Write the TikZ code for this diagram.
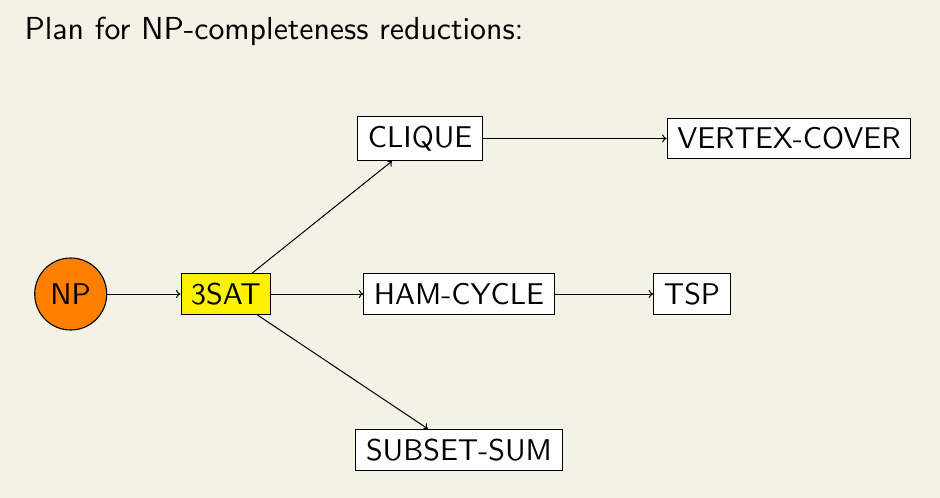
\documentclass[tikz,border=0pt]{standalone}
\usepackage{xcolor}
\usepackage{graphicx}
\usetikzlibrary{arrows.meta}
\definecolor{bgbeige}{RGB}{242,242,230}
\definecolor{npor}{RGB}{255,128,0}
\newcommand{\ntxt}[1]{\scalebox{2.74}{\sffamily\fontsize{10.95}{13}\selectfont #1}}
\newcommand{\ttxt}[1]{\resizebox{499pt}{!}{\sffamily\fontsize{10.95}{13}\selectfont #1}}
\begin{document}
\begin{tikzpicture}[x=1pt,y=-1pt,
  box/.style={draw=black,fill=white,line width=1.1pt,inner xsep=10.1pt,inner ysep=9.3pt},
  edge/.style={-{To[length=4.5pt,width=8pt]},line width=1pt}]
\fill[bgbeige] (0,0) rectangle (940,498);
\useasboundingbox (0,0) rectangle (940,498);
\node[anchor=base west,inner sep=0pt] (title) at (24.3,39.3) {\ttxt{Plan for NP-completeness reductions:}};
\node[circle,draw=black,fill=npor,line width=1.1pt,minimum size=72pt,inner sep=0pt] (np) at (70.7,294) {\ntxt{NP}};
\node[box,fill=yellow] (sat) at (226,294) {\ntxt{3SAT}};
\node[box] (clique) at (420.2,138.5) {\ntxt{CLIQUE}};
\node[box] (vc) at (789,138.5) {\ntxt{VERTEX-COVER}};
\node[box] (ham) at (459,294) {\ntxt{HAM-CYCLE}};
\node[box] (tsp) at (692,294) {\ntxt{TSP}};
\node[box] (sub) at (459,449.7) {\ntxt{SUBSET-SUM}};
\draw[edge] (np) -- (sat);
\draw[edge] (sat) -- (clique);
\draw[edge] (sat) -- (ham);
\draw[edge] (sat) -- (sub);
\draw[edge] (clique) -- (vc);
\draw[edge] (ham) -- (tsp);
\end{tikzpicture}
\end{document}
